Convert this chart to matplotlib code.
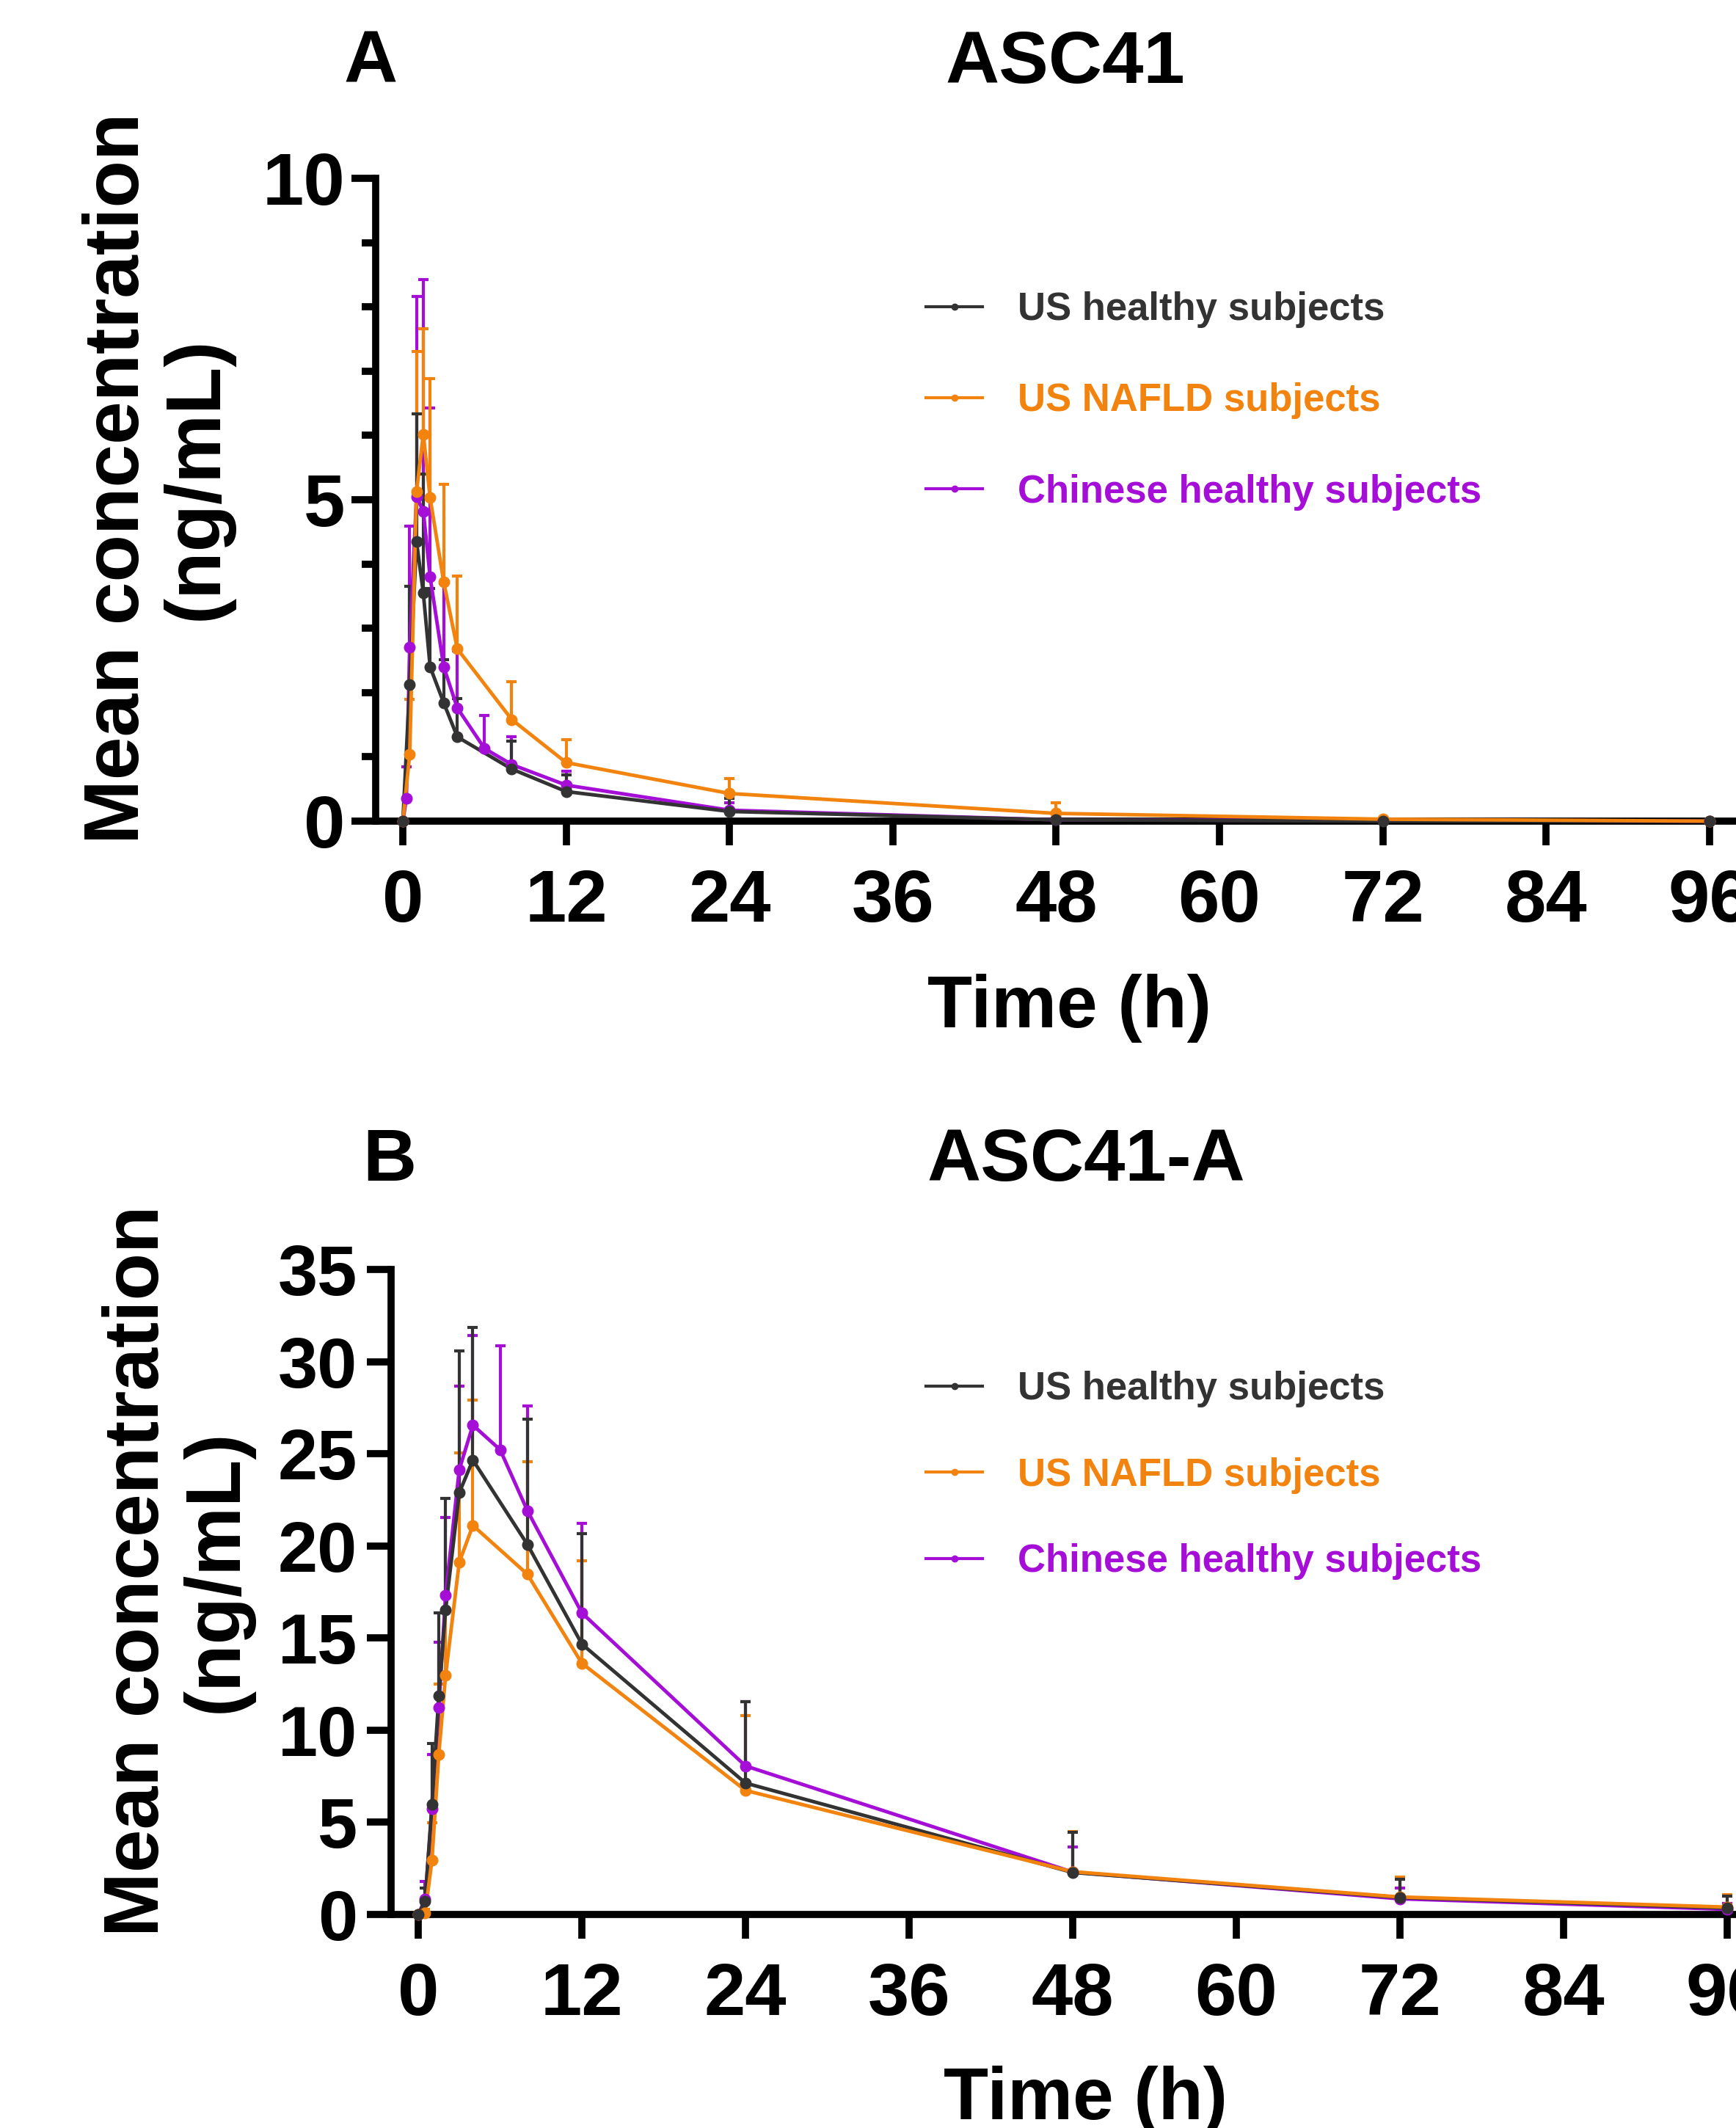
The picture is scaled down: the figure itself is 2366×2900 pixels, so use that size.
import matplotlib
matplotlib.use("Agg")
import matplotlib.pyplot as plt
from matplotlib.lines import Line2D
from matplotlib.ticker import MultipleLocator

plt.rcParams["font.family"] = ["Liberation Sans", "DejaVu Sans"]
plt.rcParams["font.weight"] = "bold"

# sampling times (h)
times_us = [0, 0.5, 1, 1.5, 2, 3, 4, 8, 12, 24, 48, 72, 96]
times_cn_a = [0, 0.25, 0.5, 1, 1.5, 2, 3, 4, 6, 8, 12, 24, 48, 72, 96]
times_cn_b = [0, 0.5, 1, 1.5, 2, 3, 4, 6, 8, 12, 24, 48, 72, 96]

# ASC41 (ng/mL): mean and upper SD
us_healthy_a = [0, 2.12, 4.35, 3.55, 2.40, 1.84, 1.31, 0.81, 0.46, 0.15, 0.02, 0.0, 0.0]
us_healthy_a_sd = [0, 1.53, 1.98, 1.85, 1.22, 0.67, 0.60, 0.43, 0.26, 0.20, 0.03, 0.01, 0]
us_nafld_a = [0, 1.04, 5.12, 6.02, 5.03, 3.72, 2.68, 1.58, 0.91, 0.43, 0.12, 0.03, 0.0]
us_nafld_a_sd = [0, 0.86, 2.19, 1.64, 1.85, 1.52, 1.13, 0.59, 0.36, 0.23, 0.17, 0.02, 0.01]
cn_healthy_a = [0, 0.35, 2.70, 5.05, 4.82, 3.80, 2.40, 1.76, 1.13, 0.88, 0.56, 0.17, 0.02, 0.01, 0.0]
cn_healthy_a_sd = [0, 0.49, 1.89, 3.11, 3.61, 2.63, 1.30, 0.89, 0.51, 0.43, 0.22, 0.11, 0.02, 0.0, 0]

# ASC41-A (ng/mL): mean and upper SD
us_healthy_b = [0, 0.73, 5.98, 11.87, 16.53, 22.88, 24.66, 20.08, 14.67, 7.13, 2.28, 0.92, 0.35]
us_healthy_b_sd = [0, 0.70, 3.31, 4.49, 6.03, 7.72, 7.20, 6.78, 6.01, 4.42, 2.19, 0.98, 0.65]
us_nafld_b = [0, 0.09, 2.95, 8.69, 12.98, 19.11, 21.11, 18.46, 13.63, 6.73, 2.32, 0.95, 0.40]
us_nafld_b_sd = [0, 0.20, 2.03, 3.81, 4.44, 5.94, 6.81, 6.11, 5.55, 4.05, 2.18, 1.07, 0.66]
cn_healthy_b = [0, 0.84, 5.74, 11.22, 17.33, 24.13, 26.55, 25.22, 21.91, 16.36, 8.06, 2.30, 0.85, 0.28]
cn_healthy_b_sd = [0, 0.95, 2.95, 3.55, 4.22, 4.52, 4.87, 5.62, 5.67, 4.87, 3.49, 1.38, 0.57, 0.32]

labels = ["US healthy subjects", "US NAFLD subjects", "Chinese healthy subjects"]
colors = ["#333333", "#F2830E", "#A40ED6"]

W, H = 2366, 2900
fig = plt.figure(figsize=(W / 100, H / 100), dpi=100)


def draw_panel(ax, series, ymax, major, minor, ylabsize, ypad):
    # series order: healthy, nafld, chinese
    line_z = {0: 3.2, 1: 3.3, 2: 3.1}
    mark_z = {0: 4.3, 1: 4.2, 2: 4.1}
    err_z = {0: 2.3, 1: 2.2, 2: 2.1}
    for i, (t, y, sd) in enumerate(series):
        c = colors[i]
        ax.errorbar(t, y, yerr=[[0] * len(sd), sd], fmt="none", ecolor=c,
                    elinewidth=3, capsize=5, capthick=3, zorder=err_z[i],
                    clip_on=False)
        ax.plot(t, y, "-", color=c, lw=3.5, zorder=line_z[i], clip_on=False)
        ax.plot(t, y, "o", color=c, ms=10.5, zorder=mark_z[i], clip_on=False)

    ax.set_xlim(-2, 100)
    ax.set_ylim(0, ymax)
    ax.set_xticks(range(0, 97, 12))
    ax.yaxis.set_major_locator(MultipleLocator(major))
    if minor:
        ax.yaxis.set_minor_locator(MultipleLocator(minor))
    for s in ["top", "right"]:
        ax.spines[s].set_visible(False)
    for s in ["left", "bottom"]:
        ax.spines[s].set_linewidth(7)
    ax.tick_params(axis="x", which="major", length=24, width=7, pad=22,
                   labelsize=73)
    ax.tick_params(axis="y", which="major", length=24, width=7, pad=ypad,
                   labelsize=ylabsize)
    ax.tick_params(axis="y", which="minor", length=13.5, width=7)
    for lab in ax.get_xticklabels() + ax.get_yticklabels():
        lab.set_fontweight("bold")


def legend(ax, top, spacing):
    handles = [Line2D([], [], color=c, lw=3, marker="o", ms=6) for c in colors]
    ax.legend(handles, labels, loc="upper left",
              bbox_to_anchor=(1262 / W, 1 - top / H), bbox_transform=fig.transFigure,
              frameon=False, prop={"weight": "bold", "size": 38},
              labelcolor=colors, handlelength=1.46, handletextpad=0.9,
              labelspacing=spacing, borderpad=0, borderaxespad=0)


# panel A
ax_a = fig.add_axes([512 / W, 1 - 1119 / H, 1892 / W, 876 / H])
draw_panel(ax_a, [(times_us, us_healthy_a, us_healthy_a_sd),
                  (times_us, us_nafld_a, us_nafld_a_sd),
                  (times_cn_a, cn_healthy_a, cn_healthy_a_sd)],
           10, 5, 1, 73, 6)
legend(ax_a, 397, 1.41)

# panel B
ax_b = fig.add_axes([533 / W, 1 - 2609 / H, 1895 / W, 879 / H])
draw_panel(ax_b, [(times_us, us_healthy_b, us_healthy_b_sd),
                   (times_us, us_nafld_b, us_nafld_b_sd),
                   (times_cn_b, cn_healthy_b, cn_healthy_b_sd)],
           35, 5, None, 70, 9)
legend(ax_b, 1868, 1.28)

# titles, axis labels
fig.text(505 / W, 1 - 113 / H, "A", fontsize=73, fontweight="bold", ha="center", va="baseline")
fig.text(1452 / W, 1 - 113 / H, "ASC41", fontsize=73, fontweight="bold", ha="center", va="baseline")
fig.text(531 / W, 1 - 1609 / H, "B", fontsize=73, fontweight="bold", ha="center", va="baseline")
fig.text(1480 / W, 1 - 1609 / H, "ASC41-A", fontsize=73, fontweight="bold", ha="center", va="baseline")

fig.text(1458 / W, 1 - 1400 / H, "Time (h)", fontsize=72, fontweight="bold", ha="center", va="baseline")
fig.text(1480 / W, 1 - 2888 / H, "Time (h)", fontsize=72, fontweight="bold", ha="center", va="baseline")

fig.text(215 / W, 1 - 652 / H, "Mean concentration\n(ng/mL)", rotation=90, fontsize=76,
         fontweight="bold", ha="center", va="center", multialignment="center", linespacing=1.1)
fig.text(242 / W, 1 - 2141 / H, "Mean concentration\n(ng/mL)", rotation=90, fontsize=76,
         fontweight="bold", ha="center", va="center", multialignment="center", linespacing=1.1)

fig.savefig("out.png", dpi=100)
